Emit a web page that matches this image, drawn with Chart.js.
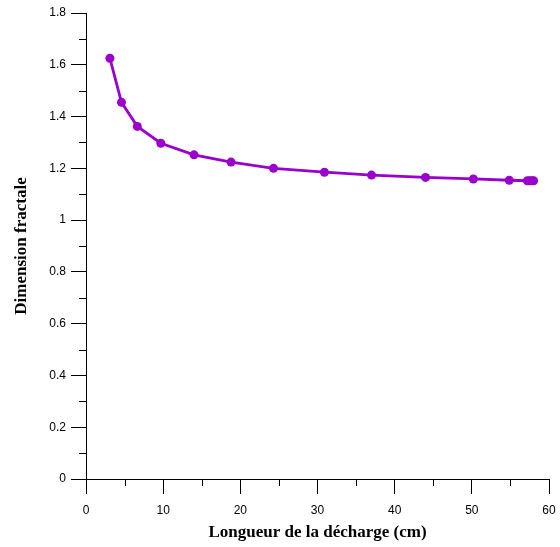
<!DOCTYPE html>
<html>
<head>
<meta charset="utf-8">
<script src="https://cdn.jsdelivr.net/npm/chart.js@4/dist/chart.umd.min.js"></script>
<style>
  html, body { margin: 0; padding: 0; background: #fff; }
  #wrap { width: 560px; height: 547px; }
</style>
</head>
<body>
<div id="wrap"><canvas id="fractalChart" width="560" height="547"></canvas></div>
<script>
// Discharge length (cm) vs fractal dimension
const longueurs = [3.1, 4.6, 6.65, 9.7, 14.0, 18.8, 24.3, 30.9, 37.0, 44.0, 50.2, 54.85, 57.2, 57.5, 57.8, 58.0];
const dimensions = [1.625, 1.455, 1.362, 1.297, 1.252, 1.224, 1.200, 1.185, 1.174, 1.165, 1.159, 1.154, 1.152, 1.152, 1.152, 1.152];

const xMin = 0, xMax = 60, xStep = 10, xMinorStep = 5;
const yMin = 0, yMax = 1.8, yStep = 0.2, yMinorStep = 0.1;

const purple = "#9900cc";

// Minor tick marks half-way between labelled ticks
const minorTicks = {
  id: "minorTicks",
  afterDraw(chart) {
    const ctx = chart.ctx;
    const xs = chart.scales.x;
    const ys = chart.scales.y;
    ctx.save();
    ctx.strokeStyle = "#000";
    ctx.lineWidth = 1;
    ctx.beginPath();
    for (let v = xMin + xMinorStep; v < xMax; v += xStep) {
      const px = Math.round(xs.getPixelForValue(v)) + 0.5;
      ctx.moveTo(px, ys.bottom);
      ctx.lineTo(px, ys.bottom + 7);
    }
    for (let v = yMin + yMinorStep; v < yMax; v += yStep) {
      const py = Math.round(ys.getPixelForValue(v)) + 0.5;
      ctx.moveTo(xs.left, py);
      ctx.lineTo(xs.left - 7, py);
    }
    ctx.stroke();
    ctx.restore();
  },
};

new Chart(document.getElementById("fractalChart"), {
  type: "line",
  data: {
    datasets: [
      {
        data: longueurs.map((x, i) => ({ x: x, y: dimensions[i] })),
        borderColor: purple,
        backgroundColor: purple,
        borderWidth: 2.8,
        pointRadius: 4.5,
        pointHoverRadius: 4.5,
        pointBorderWidth: 0,
        tension: 0,
        fill: false,
      },
    ],
  },
  options: {
    responsive: false,
    animation: false,
    layout: { padding: { top: 13, right: 11, left: 0, bottom: 0 } },
    plugins: {
      legend: { display: false },
      tooltip: { enabled: false },
    },
    scales: {
      x: {
        type: "linear",
        min: xMin,
        max: xMax,
        afterFit(scale) {
          scale.height = 68;
          scale.paddingLeft = 0;
          scale.paddingRight = 0;
        },
        ticks: {
          stepSize: xStep,
          color: "#000",
          padding: 9,
          font: { family: "Liberation Sans, Arial, sans-serif", size: 12 },
          maxRotation: 0,
        },
        grid: { drawOnChartArea: false, tickLength: 15, color: "#000", tickColor: "#000" },
        border: { display: true, color: "#000", width: 1 },
        title: {
          display: true,
          text: "Longueur de la décharge (cm)",
          color: "#000",
          font: { family: "Liberation Serif, Times New Roman, serif", size: 17, weight: "bold" },
          padding: { top: 0, bottom: 4 },
        },
      },
      y: {
        type: "linear",
        min: yMin,
        max: yMax,
        afterFit(scale) { scale.width = 86; },
        ticks: {
          stepSize: yStep,
          color: "#000",
          padding: 5,
          font: { family: "Liberation Sans, Arial, sans-serif", size: 12 },
          callback: (v) => Number(v.toFixed(1)).toString(),
        },
        grid: { drawOnChartArea: false, tickLength: 15, color: "#000", tickColor: "#000" },
        border: { display: true, color: "#000", width: 1 },
        title: {
          display: true,
          text: "Dimension fractale",
          color: "#000",
          font: { family: "Liberation Serif, Times New Roman, serif", size: 17, weight: "bold" },
          padding: { top: 11, bottom: 0 },
        },
      },
    },
  },
  plugins: [minorTicks],
});
</script>
</body>
</html>
